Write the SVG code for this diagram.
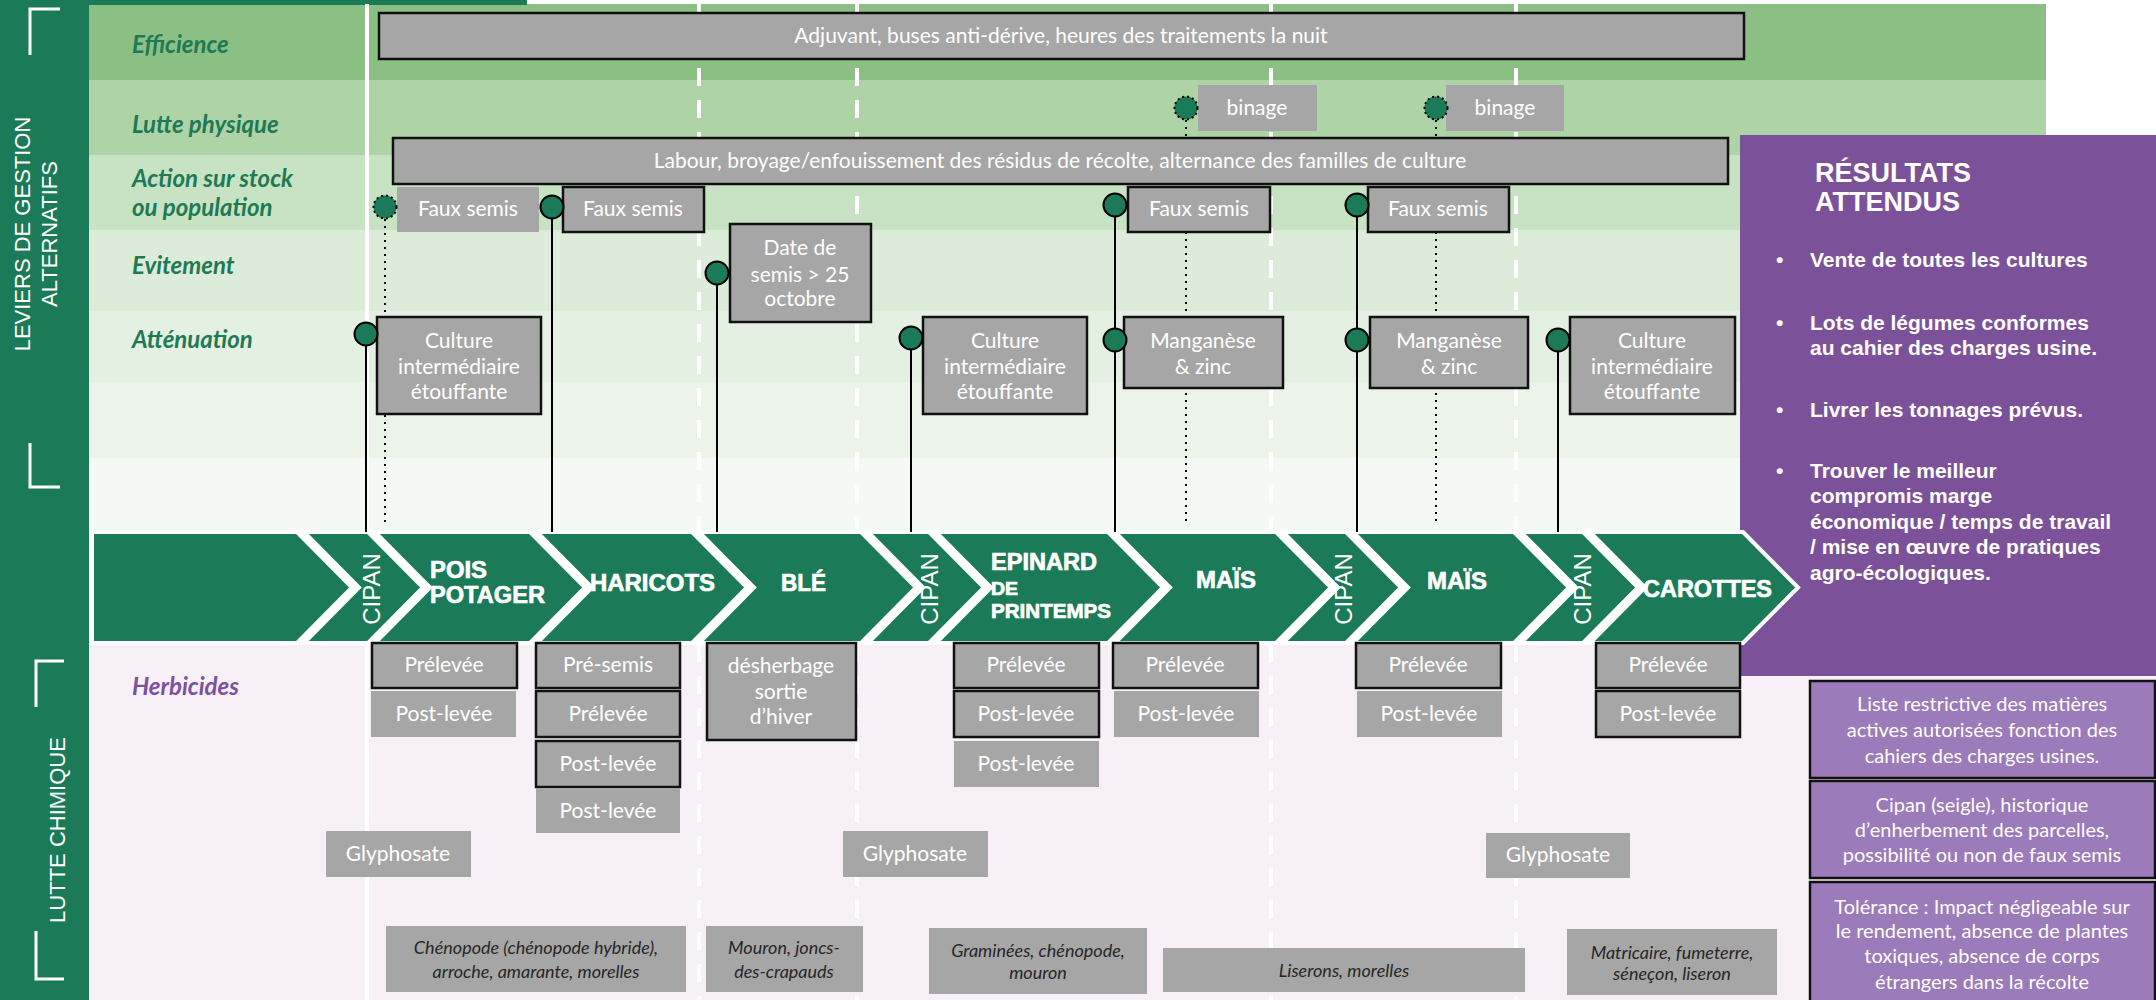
<svg xmlns="http://www.w3.org/2000/svg" width="2156" height="1000" viewBox="0 0 2156 1000">
<defs>
<style>
.lbl{font-family:Lato,"Open Sans",sans-serif;font-weight:bold;font-style:italic;font-size:24px;fill:#1e7a55}
.box{fill:#a6a6a6}
.bd{stroke:#111;stroke-width:2.5}
.bt{font-family:Lato,"Open Sans",sans-serif;font-size:21px;fill:#fff;text-anchor:middle}
.wt{font-family:Lato,"Open Sans",sans-serif;font-size:18px;font-style:italic;fill:#262626;text-anchor:middle}
.chev{fill:#1b7a57;stroke:#fff;stroke-width:4}
.ct{font-family:"Liberation Sans",Arial,sans-serif;font-weight:bold;fill:#fff;stroke:#fff;stroke-width:0.7}
.cip{font-family:"Liberation Sans",Arial,sans-serif;font-size:24px;fill:#fff;text-anchor:middle}
.dash{stroke:#fff;stroke-width:4;stroke-dasharray:18 14}
.sl{stroke:#000;stroke-width:2;fill:none}
.dl{stroke:#000;stroke-width:2;stroke-dasharray:2 5;fill:none}
.pt{fill:#1b7a57;stroke:#000;stroke-width:2}
.ptd{fill:#1b7a57;stroke:#000;stroke-width:2;stroke-dasharray:2 3}
.side{font-family:"Liberation Sans",Arial,sans-serif;font-size:22px;fill:#fff;text-anchor:middle}
.res{font-family:"Liberation Sans",Arial,sans-serif;font-weight:bold;fill:#fff}
.pbox{fill:#9b7bb9;stroke:#111;stroke-width:2.5}
.pt2{font-family:Lato,"Open Sans",sans-serif;font-size:20px;fill:#fff;text-anchor:middle}
.brk{stroke:#fff;stroke-width:3;fill:none}
</style>
</defs>

<!-- background -->
<g id="background">
<rect x="0" y="0" width="2156" height="1000" fill="#fff"/>
<rect x="89" y="643" width="2067" height="357" fill="#f7f1f7"/>
<rect x="89" y="4" width="1957" height="76" fill="#8cbf84"/>
<rect x="89" y="80" width="1957" height="75" fill="#add3a7"/>
<rect x="89" y="155" width="1957" height="75" fill="#c8e2c4"/>
<rect x="89" y="230" width="1957" height="81" fill="#dcecd8"/>
<rect x="89" y="311" width="1957" height="71" fill="#e4f0e2"/>
<rect x="89" y="382" width="1957" height="76" fill="#ecf4ea"/>
<rect x="89" y="458" width="1957" height="74" fill="#f4f9f3"/>
<rect x="0" y="0" width="527" height="5" fill="#1b7a57"/>
<rect x="0" y="0" width="89" height="1000" fill="#1b7a57"/>
<line x1="367" y1="4" x2="367" y2="1000" stroke="#fff" stroke-width="4"/>
<line x1="699" y1="4" x2="699" y2="1000" class="dash"/>
<line x1="857" y1="4" x2="857" y2="1000" class="dash"/>
<line x1="1271" y1="4" x2="1271" y2="1000" class="dash"/>
<line x1="1516" y1="4" x2="1516" y2="1000" class="dash"/>
</g>

<!-- side strip -->
<g id="side-labels">
<path class="brk" d="M30,55 V9 H60"/>
<path class="brk" d="M30,443 V487 H60"/>
<path class="brk" d="M36,707 V661 H64"/>
<path class="brk" d="M36,931 V979 H64"/>
<text class="side" transform="translate(30,234) rotate(-90)">LEVIERS DE GESTION</text>
<text class="side" transform="translate(57,234) rotate(-90)">ALTERNATIFS</text>
<text class="side" transform="translate(65,830) rotate(-90)">LUTTE CHIMIQUE</text>
</g>

<!-- row labels -->
<g id="row-labels">
<text class="lbl" x="132" y="53">Efficience</text>
<text class="lbl" x="132" y="133">Lutte physique</text>
<text class="lbl" x="132" y="187">Action sur stock</text>
<text class="lbl" x="132" y="216">ou population</text>
<text class="lbl" x="132" y="274">Evitement</text>
<text class="lbl" x="132" y="348">Atténuation</text>
<text class="lbl" x="132" y="695" style="fill:#7b52a0">Herbicides</text>
</g>

<!-- results panel -->
<g id="resultats">
<rect x="1740" y="135" width="416" height="541" fill="#7b5299"/>
<text class="res" x="1815" y="182" font-size="27">RÉSULTATS</text>
<text class="res" x="1815" y="211" font-size="27">ATTENDUS</text>
<g class="res" font-size="21">
<text x="1776" y="267">•</text><text x="1810" y="267">Vente de toutes les cultures</text>
<text x="1776" y="330">•</text><text x="1810" y="330">Lots de légumes conformes</text>
<text x="1810" y="355">au cahier des charges usine.</text>
<text x="1776" y="417">•</text><text x="1810" y="417">Livrer les tonnages prévus.</text>
<text x="1776" y="478">•</text><text x="1810" y="478">Trouver le meilleur</text>
<text x="1810" y="503">compromis marge</text>
<text x="1810" y="529">économique / temps de travail</text>
<text x="1810" y="554">/ mise en œuvre de pratiques</text>
<text x="1810" y="580">agro-écologiques.</text>
</g>
</g>

<!-- crop sequence -->
<g id="rotation">
<rect x="89" y="530" width="1651" height="115" fill="#fff"/>
<polygon class="chev" points="92,532 297,532 352,587.5 297,643 92,643"/>
<g id="cipan-1"><polygon class="chev" points="304,532 368,532 423,587.5 368,643 304,643 359,587.5"/>
<text class="cip" transform="translate(380,589) rotate(-90)">CIPAN</text></g>
<g id="pois"><polygon class="chev" points="375,532 530,532 585,587.5 530,643 375,643 430,587.5"/>
<text class="ct" x="430" y="578" style="font-size:24px" textLength="57" lengthAdjust="spacingAndGlyphs">POIS</text>
<text class="ct" x="430" y="603" style="font-size:24px" textLength="115" lengthAdjust="spacingAndGlyphs">POTAGER</text></g>
<g id="haricots"><polygon class="chev" points="537,532 692,532 747,587.5 692,643 537,643 592,587.5"/>
<text class="ct" x="590" y="591" style="font-size:24px" textLength="125" lengthAdjust="spacingAndGlyphs">HARICOTS</text></g>
<g id="ble"><polygon class="chev" points="699,532 861,532 916,587.5 861,643 699,643 754,587.5"/>
<text class="ct" x="781" y="591" style="font-size:24px" textLength="45" lengthAdjust="spacingAndGlyphs">BLÉ</text></g>
<g id="cipan-2"><polygon class="chev" points="868,532 929,532 984,587.5 929,643 868,643 923,587.5"/>
<text class="cip" transform="translate(938,589) rotate(-90)">CIPAN</text></g>
<g id="epinard"><polygon class="chev" points="936,532 1108,532 1163,587.5 1108,643 936,643 991,587.5"/>
<text class="ct" x="991" y="570" style="font-size:23px" textLength="106" lengthAdjust="spacingAndGlyphs">EPINARD</text>
<text class="ct" x="991" y="595" style="font-size:18px" textLength="27" lengthAdjust="spacingAndGlyphs">DE</text>
<text class="ct" x="991" y="618" style="font-size:20px" textLength="120" lengthAdjust="spacingAndGlyphs">PRINTEMPS</text></g>
<g id="mais-1"><polygon class="chev" points="1115,532 1276,532 1331,587.5 1276,643 1115,643 1170,587.5"/>
<text class="ct" x="1196" y="588" style="font-size:24px" textLength="60" lengthAdjust="spacingAndGlyphs">MAÏS</text></g>
<g id="cipan-3"><polygon class="chev" points="1283,532 1346,532 1401,587.5 1346,643 1283,643 1338,587.5"/>
<text class="cip" transform="translate(1352,589) rotate(-90)">CIPAN</text></g>
<g id="mais-2"><polygon class="chev" points="1353,532 1514,532 1569,587.5 1514,643 1353,643 1408,587.5"/>
<text class="ct" x="1427" y="589" style="font-size:24px" textLength="60" lengthAdjust="spacingAndGlyphs">MAÏS</text></g>
<g id="cipan-4"><polygon class="chev" points="1521,532 1583,532 1638,587.5 1583,643 1521,643 1576,587.5"/>
<text class="cip" transform="translate(1591,589) rotate(-90)">CIPAN</text></g>
<g id="carottes"><polygon class="chev" points="1590,532 1743,532 1798,587.5 1743,643 1590,643 1645,587.5"/>
<text class="ct" x="1643" y="597" style="font-size:24px" textLength="129" lengthAdjust="spacingAndGlyphs">CAROTTES</text></g>
</g>

<!-- connectors -->
<g id="connectors">
<line class="sl" x1="366" y1="334" x2="366" y2="532"/>
<line class="sl" x1="552" y1="207" x2="552" y2="532"/>
<line class="sl" x1="717" y1="273" x2="717" y2="532"/>
<line class="sl" x1="911" y1="338" x2="911" y2="532"/>
<line class="sl" x1="1115" y1="205" x2="1115" y2="532"/>
<line class="sl" x1="1357" y1="205" x2="1357" y2="532"/>
<line class="sl" x1="1558" y1="340" x2="1558" y2="532"/>
<line class="dl" x1="385" y1="219" x2="385" y2="526"/>
<line class="dl" x1="1186" y1="120" x2="1186" y2="526"/>
<line class="dl" x1="1436" y1="120" x2="1436" y2="526"/>
</g>

<!-- alternative levers -->
<g id="efficience"><rect class="box bd" x="379" y="13" width="1365" height="46"/>
<text class="bt" x="1061" y="43">Adjuvant, buses anti-dérive, heures des traitements la nuit</text></g>
<g id="labour"><rect class="box bd" x="393" y="138" width="1335" height="46"/>
<text class="bt" x="1060" y="168">Labour, broyage/enfouissement des résidus de récolte, alternance des familles de culture</text></g>
<g id="binage-1"><rect class="box" x="1198" y="85" width="119" height="46"/>
<text class="bt" x="1257" y="115">binage</text><circle class="ptd" cx="1186" cy="108" r="11.5"/></g>
<g id="binage-2"><rect class="box" x="1446" y="85" width="118" height="46"/>
<text class="bt" x="1505" y="115">binage</text><circle class="ptd" cx="1436" cy="108" r="11.5"/></g>
<g id="faux-semis-1"><rect class="box" x="397" y="187" width="142" height="45"/>
<text class="bt" x="468" y="216">Faux semis</text><circle class="ptd" cx="385" cy="207" r="11.5"/></g>
<g id="faux-semis-2"><rect class="box bd" x="563" y="187" width="141" height="45"/>
<text class="bt" x="633" y="216">Faux semis</text><circle class="pt" cx="552" cy="207" r="11.5"/></g>
<g id="faux-semis-3"><rect class="box bd" x="1128" y="187" width="142" height="45"/>
<text class="bt" x="1199" y="216">Faux semis</text><circle class="pt" cx="1115" cy="205" r="11.5"/></g>
<g id="faux-semis-4"><rect class="box bd" x="1368" y="187" width="141" height="45"/>
<text class="bt" x="1438" y="216">Faux semis</text><circle class="pt" cx="1357" cy="205" r="11.5"/></g>
<g id="date-semis"><rect class="box bd" x="730" y="224" width="141" height="98"/>
<text class="bt" x="800" y="255">Date de</text><text class="bt" x="800" y="282">semis &gt; 25</text><text class="bt" x="800" y="306">octobre</text>
<circle class="pt" cx="717" cy="273" r="11.5"/></g>
<g id="culture-1"><rect class="box bd" x="377" y="317" width="164" height="97"/>
<text class="bt" x="459" y="348">Culture</text><text class="bt" x="459" y="374">intermédiaire</text><text class="bt" x="459" y="399">étouffante</text>
<circle class="pt" cx="366" cy="334" r="11.5"/></g>
<g id="culture-2"><rect class="box bd" x="923" y="317" width="164" height="97"/>
<text class="bt" x="1005" y="348">Culture</text><text class="bt" x="1005" y="374">intermédiaire</text><text class="bt" x="1005" y="399">étouffante</text>
<circle class="pt" cx="911" cy="338" r="11.5"/></g>
<g id="manganese-1"><rect class="box bd" x="1124" y="317" width="159" height="71"/>
<text class="bt" x="1203" y="348">Manganèse</text><text class="bt" x="1203" y="374">&amp; zinc</text>
<circle class="pt" cx="1115" cy="340" r="11.5"/></g>
<g id="manganese-2"><rect class="box bd" x="1370" y="317" width="158" height="71"/>
<text class="bt" x="1449" y="348">Manganèse</text><text class="bt" x="1449" y="374">&amp; zinc</text>
<circle class="pt" cx="1357" cy="340" r="11.5"/></g>
<g id="culture-3"><rect class="box bd" x="1570" y="317" width="165" height="97"/>
<text class="bt" x="1652" y="348">Culture</text><text class="bt" x="1652" y="374">intermédiaire</text><text class="bt" x="1652" y="399">étouffante</text>
<circle class="pt" cx="1558" cy="340" r="11.5"/></g>

<!-- herbicides -->
<g id="herb-pois">
<rect class="box bd" x="372" y="643" width="145" height="45"/><text class="bt" x="444" y="672">Prélevée</text>
<rect class="box" x="371" y="691" width="145" height="46"/><text class="bt" x="444" y="721">Post-levée</text>
</g>
<g id="herb-haricots">
<rect class="box bd" x="536" y="643" width="144" height="45"/><text class="bt" x="608" y="672">Pré-semis</text>
<rect class="box bd" x="536" y="691" width="144" height="46"/><text class="bt" x="608" y="721">Prélevée</text>
<rect class="box bd" x="536" y="741" width="144" height="46"/><text class="bt" x="608" y="771">Post-levée</text>
<rect class="box" x="536" y="788" width="144" height="45"/><text class="bt" x="608" y="818">Post-levée</text>
</g>
<g id="herb-ble">
<rect class="box bd" x="707" y="643" width="149" height="97"/>
<text class="bt" x="781" y="673">désherbage</text><text class="bt" x="781" y="699">sortie</text><text class="bt" x="781" y="724">d’hiver</text>
</g>
<g id="herb-epinard">
<rect class="box bd" x="954" y="643" width="145" height="45"/><text class="bt" x="1026" y="672">Prélevée</text>
<rect class="box bd" x="954" y="691" width="145" height="46"/><text class="bt" x="1026" y="721">Post-levée</text>
<rect class="box" x="954" y="741" width="145" height="46"/><text class="bt" x="1026" y="771">Post-levée</text>
</g>
<g id="herb-mais-1">
<rect class="box bd" x="1113" y="643" width="145" height="45"/><text class="bt" x="1185" y="672">Prélevée</text>
<rect class="box" x="1114" y="691" width="145" height="46"/><text class="bt" x="1186" y="721">Post-levée</text>
</g>
<g id="herb-mais-2">
<rect class="box bd" x="1356" y="643" width="145" height="45"/><text class="bt" x="1428" y="672">Prélevée</text>
<rect class="box" x="1357" y="691" width="145" height="46"/><text class="bt" x="1429" y="721">Post-levée</text>
</g>
<g id="herb-carottes">
<rect class="box bd" x="1596" y="643" width="144" height="45"/><text class="bt" x="1668" y="672">Prélevée</text>
<rect class="box bd" x="1596" y="691" width="144" height="46"/><text class="bt" x="1668" y="721">Post-levée</text>
</g>
<g id="glyphosate-1"><rect class="box" x="326" y="831" width="145" height="46"/><text class="bt" x="398" y="861">Glyphosate</text></g>
<g id="glyphosate-2"><rect class="box" x="843" y="831" width="145" height="46"/><text class="bt" x="915" y="861">Glyphosate</text></g>
<g id="glyphosate-3"><rect class="box" x="1486" y="833" width="144" height="45"/><text class="bt" x="1558" y="862">Glyphosate</text></g>

<!-- weeds -->
<g id="weeds-pois-haricots"><rect class="box" x="386" y="926" width="300" height="66"/>
<text class="wt" x="536" y="954">Chénopode (chénopode hybride),</text><text class="wt" x="536" y="978">arroche, amarante, morelles</text></g>
<g id="weeds-ble"><rect class="box" x="706" y="926" width="157" height="66"/>
<text class="wt" x="784" y="954">Mouron, joncs-</text><text class="wt" x="784" y="978">des-crapauds</text></g>
<g id="weeds-epinard"><rect class="box" x="929" y="928" width="218" height="66"/>
<text class="wt" x="1038" y="957">Graminées, chénopode,</text><text class="wt" x="1038" y="979">mouron</text></g>
<g id="weeds-mais"><rect class="box" x="1163" y="948" width="362" height="44"/>
<text class="wt" x="1344" y="977">Liserons, morelles</text></g>
<g id="weeds-carottes"><rect class="box" x="1567" y="929" width="210" height="66"/>
<text class="wt" x="1672" y="959">Matricaire, fumeterre,</text><text class="wt" x="1672" y="980">séneçon, liseron</text></g>

<!-- constraints -->
<g id="contrainte-1"><rect class="pbox" x="1810" y="681" width="345" height="97"/>
<text class="pt2" x="1982" y="711">Liste restrictive des matières</text>
<text class="pt2" x="1982" y="737">actives autorisées fonction des</text>
<text class="pt2" x="1982" y="763">cahiers des charges usines.</text></g>
<g id="contrainte-2"><rect class="pbox" x="1810" y="781" width="345" height="97"/>
<text class="pt2" x="1982" y="812">Cipan (seigle), historique</text>
<text class="pt2" x="1982" y="837">d’enherbement des parcelles,</text>
<text class="pt2" x="1982" y="862">possibilité ou non de faux semis</text></g>
<g id="contrainte-3"><rect class="pbox" x="1810" y="882" width="345" height="125"/>
<text class="pt2" x="1982" y="914">Tolérance : Impact négligeable sur</text>
<text class="pt2" x="1982" y="938">le rendement, absence de plantes</text>
<text class="pt2" x="1982" y="963">toxiques, absence de corps</text>
<text class="pt2" x="1982" y="989">étrangers dans la récolte</text></g>
</svg>
